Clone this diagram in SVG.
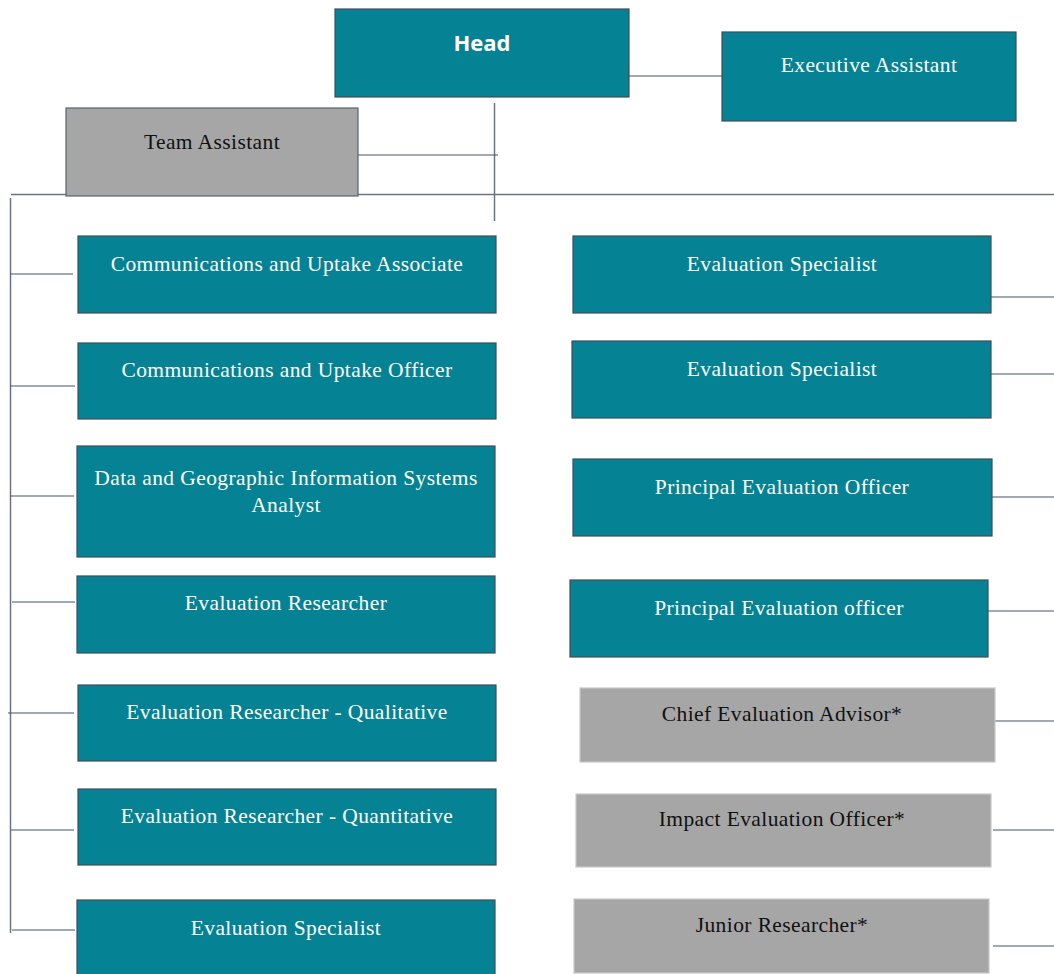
<svg xmlns="http://www.w3.org/2000/svg" width="1054" height="974" viewBox="0 0 1054 974">
<style>
.t{fill:#058294;stroke:#3E4D5E;stroke-width:1.2}
.g{fill:#A6A6A6;stroke:#C8C8C8;stroke-width:1.2}
.ga{fill:#A6A6A6;stroke:#5A6270;stroke-width:1.2}
.lw{font-family:"Liberation Serif","Times New Roman",serif;font-size:21.5px;letter-spacing:0.4px;fill:#FFFFFF;text-anchor:middle}
.lb{font-family:"Liberation Serif","Times New Roman",serif;font-size:21.5px;letter-spacing:0.4px;fill:#111111;text-anchor:middle}
.hd{font-family:"Open Sans","Noto Sans",sans-serif;font-size:22px;font-weight:bold;fill:#FFFFFF;text-anchor:middle}
.c{stroke:#44546A;stroke-width:1.2;fill:none}
.cv{stroke:#6B7383;stroke-width:1.5;fill:none}
</style>
<rect width="1054" height="974" fill="#FFFFFF"/>
<g id="connectors">
<line class="c" x1="629" y1="76" x2="722" y2="76"/>
<line class="cv" x1="494.5" y1="103" x2="494.5" y2="221"/>
<line class="c" x1="358" y1="155" x2="498" y2="155"/>
<line class="cv" x1="11" y1="194.5" x2="1054" y2="194.5"/>
<line class="cv" x1="10.5" y1="198" x2="10.5" y2="933"/>
<line class="c" x1="10" y1="274" x2="73" y2="274"/>
<line class="c" x1="10" y1="386" x2="75" y2="386"/>
<line class="c" x1="10" y1="496" x2="74" y2="496"/>
<line class="c" x1="12" y1="602" x2="75" y2="602"/>
<line class="c" x1="8" y1="713" x2="74" y2="713"/>
<line class="c" x1="11" y1="830" x2="74" y2="830"/>
<line class="c" x1="12" y1="930" x2="75" y2="930"/>
<line class="c" x1="991" y1="297" x2="1054" y2="297"/>
<line class="c" x1="988" y1="374" x2="1054" y2="374"/>
<line class="c" x1="992" y1="497" x2="1054" y2="497"/>
<line class="c" x1="988" y1="611" x2="1054" y2="611"/>
<line class="c" x1="991" y1="721" x2="1054" y2="721"/>
<line class="c" x1="993" y1="830" x2="1054" y2="830"/>
<line class="c" x1="993" y1="946" x2="1054" y2="946"/>
</g>
<g id="head"><rect class="t" x="335" y="9" width="294" height="88"/><text class="hd" x="482" y="51">Head</text></g>
<g id="exec-assistant"><rect class="t" x="722" y="32" width="294" height="89"/><text class="lw" x="869" y="72">Executive Assistant</text></g>
<g id="team-assistant"><rect class="ga" x="66" y="108" width="292" height="88"/><text class="lb" x="212" y="149">Team Assistant</text></g>
<g id="l1"><rect class="t" x="78" y="236" width="418" height="77"/><text class="lw" x="287" y="271">Communications and Uptake Associate</text></g>
<g id="l2"><rect class="t" x="78" y="343" width="418" height="76"/><text class="lw" x="287" y="377">Communications and Uptake Officer</text></g>
<g id="l3"><rect class="t" x="77" y="446" width="418" height="111"/><text class="lw" x="286" y="485">Data and Geographic Information Systems</text><text class="lw" x="286" y="512">Analyst</text></g>
<g id="l4"><rect class="t" x="77" y="576" width="418" height="77"/><text class="lw" x="286" y="610">Evaluation Researcher</text></g>
<g id="l5"><rect class="t" x="78" y="685" width="418" height="76"/><text class="lw" x="287" y="719">Evaluation Researcher - Qualitative</text></g>
<g id="l6"><rect class="t" x="78" y="789" width="418" height="76"/><text class="lw" x="287" y="823">Evaluation Researcher - Quantitative</text></g>
<g id="l7"><rect class="t" x="77" y="900" width="418" height="80"/><text class="lw" x="286" y="935">Evaluation Specialist</text></g>
<g id="r1"><rect class="t" x="573" y="236" width="418" height="77"/><text class="lw" x="782" y="271">Evaluation Specialist</text></g>
<g id="r2"><rect class="t" x="572" y="341" width="419" height="77"/><text class="lw" x="782" y="376">Evaluation Specialist</text></g>
<g id="r3"><rect class="t" x="573" y="459" width="419" height="77"/><text class="lw" x="782" y="494">Principal Evaluation Officer</text></g>
<g id="r4"><rect class="t" x="570" y="580" width="418" height="77"/><text class="lw" x="779" y="615">Principal Evaluation officer</text></g>
<g id="r5"><rect class="g" x="580" y="688" width="415" height="74"/><text class="lb" x="782" y="721">Chief Evaluation Advisor*</text></g>
<g id="r6"><rect class="g" x="576" y="794" width="415" height="73"/><text class="lb" x="782" y="826">Impact Evaluation Officer*</text></g>
<g id="r7"><rect class="g" x="574" y="899" width="415" height="74"/><text class="lb" x="782" y="932">Junior Researcher*</text></g>
</svg>
